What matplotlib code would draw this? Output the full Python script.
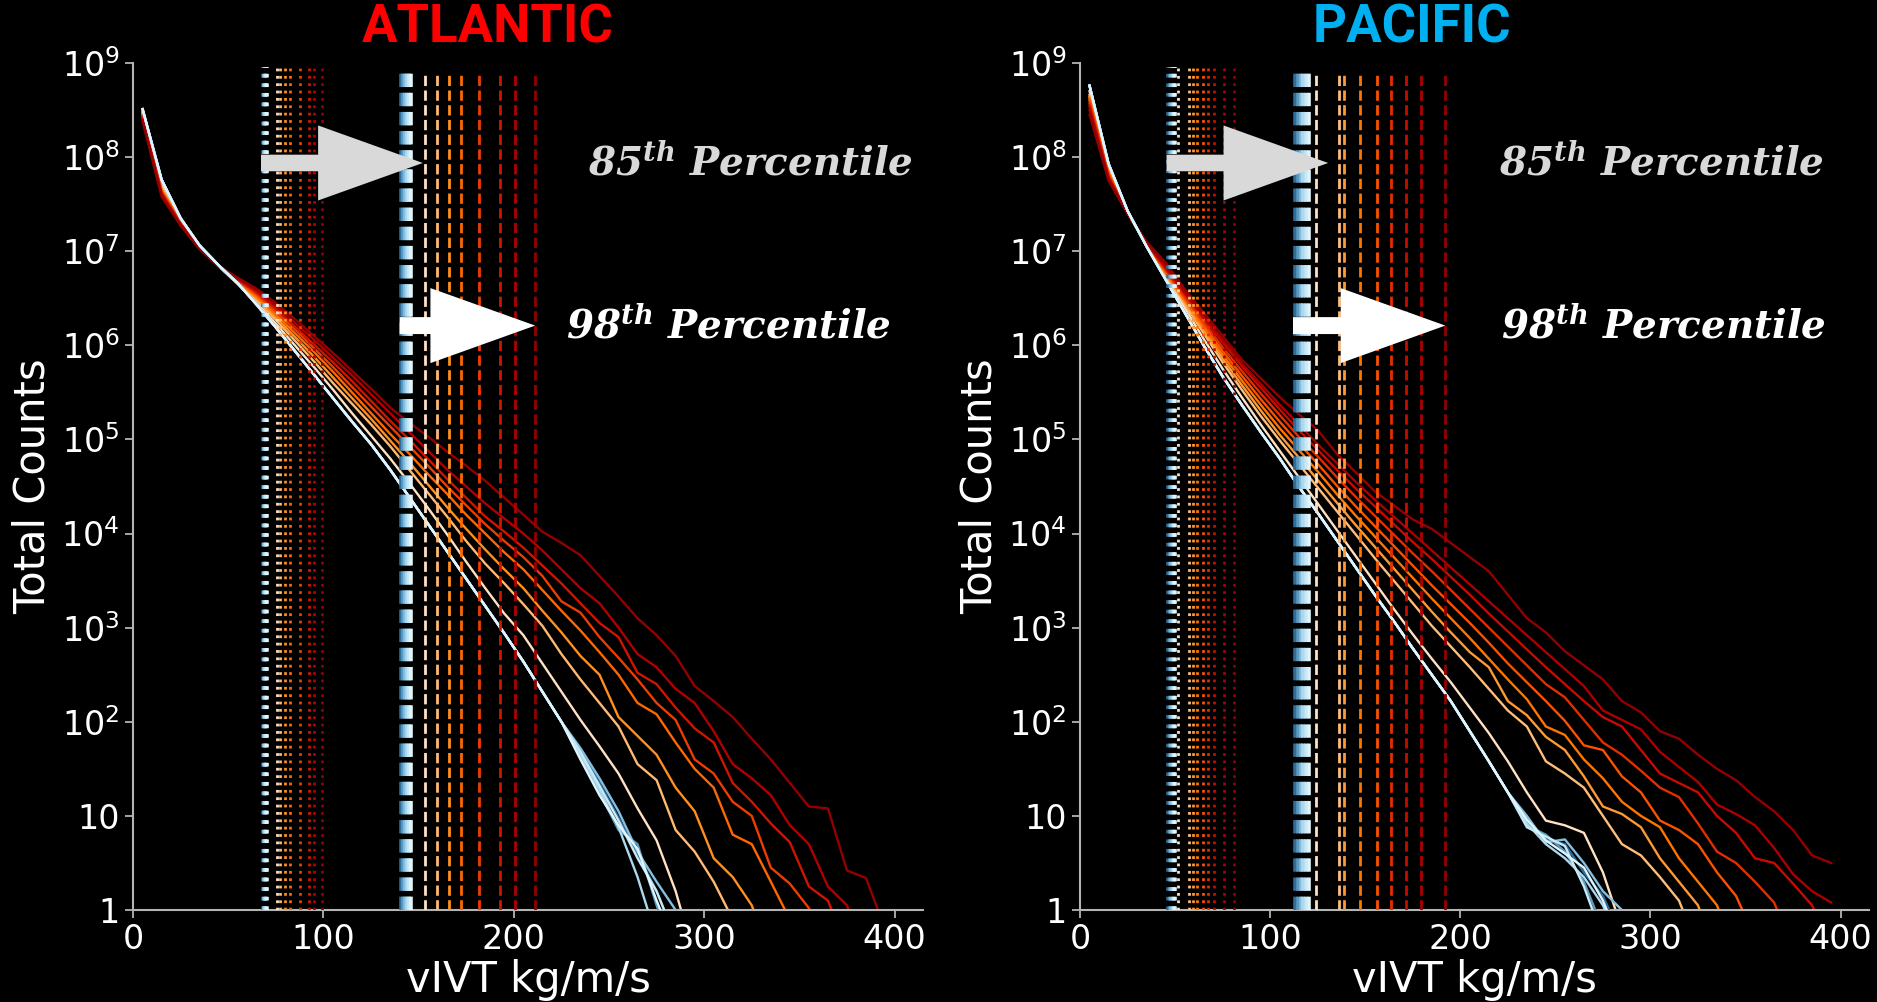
import numpy as np
import matplotlib
matplotlib.use("Agg")
import matplotlib.pyplot as plt
import matplotlib.transforms as mtransforms
from matplotlib.colors import LinearSegmentedColormap
from matplotlib.patches import FancyArrow
from matplotlib.ticker import NullLocator

plt.rcParams['font.family'] = ['DejaVu Sans']

# vIVT histogram bin centres (kg/m/s), 10 kg/m/s bins
bin_centres = np.arange(5, 400, 10)

# ---------------- ATLANTIC ----------------
# log10 of bin counts; historical members share the body and differ in the tail (bins from 235)
atl_hist_core = [8.51, 7.76, 7.35, 7.06, 6.85, 6.66, 6.43, 6.19, 5.94, 5.69, 5.44, 5.19,
                 4.95, 4.68, 4.39, 4.10, 3.81, 3.52, 3.23, 2.94, 2.64, 2.32, 2.00]
atl_hist_tails = [
    [1.70, 1.35, 0.98, 0.60, 0.20, -0.30],
    [1.62, 1.25, 0.85, 0.70, 0.05, -0.50],
    [1.72, 1.40, 1.05, 0.62, 0.30, 0.00, -0.50],
    [1.65, 1.28, 0.88, 0.35, -0.30],
    [1.68, 1.32, 0.95, 0.55, 0.20, -0.30],
    [1.60, 1.22, 0.90, 0.65, 0.10, -0.40],
]
# warming runs, weakest to strongest (log10 counts from the first bin)
atl_warm = [
    [8.48, 7.70, 7.34, 7.06, 6.84, 6.65, 6.45, 6.23, 6.00, 5.77, 5.53, 5.28, 5.04, 4.80, 4.54,
     4.27, 3.99, 3.70, 3.42, 3.15, 2.92, 2.62, 2.32, 2.02, 1.74, 1.45, 1.08, 0.74, 0.20, -0.50],
    [8.47, 7.68, 7.33, 7.06, 6.84, 6.66, 6.48, 6.27, 6.05, 5.83, 5.60, 5.38, 5.16, 4.93, 4.68,
     4.43, 4.18, 3.92, 3.68, 3.47, 3.25, 3.02, 2.72, 2.45, 2.20, 1.95, 1.55, 1.38, 0.85, 0.62,
     0.30, -0.10],
    [8.46, 7.66, 7.32, 7.05, 6.84, 6.67, 6.50, 6.30, 6.09, 5.88, 5.66, 5.44, 5.22, 4.99, 4.76,
     4.52, 4.28, 4.05, 3.83, 3.62, 3.42, 3.18, 2.95, 2.70, 2.50, 2.05, 1.85, 1.65, 1.30, 1.05,
     0.55, 0.35, 0.05, -0.50],
    [8.45, 7.65, 7.31, 7.05, 6.84, 6.68, 6.52, 6.33, 6.13, 5.93, 5.72, 5.50, 5.28, 5.06, 4.85,
     4.63, 4.42, 4.20, 4.00, 3.80, 3.62, 3.40, 3.18, 2.97, 2.74, 2.50, 2.20, 2.08, 1.78, 1.50,
     1.30, 0.80, 0.70, 0.30, -0.10],
    [8.43, 7.63, 7.30, 7.04, 6.84, 6.69, 6.54, 6.36, 6.17, 5.97, 5.77, 5.56, 5.35, 5.14, 4.93,
     4.72, 4.50, 4.30, 4.10, 3.92, 3.75, 3.55, 3.28, 3.16, 2.90, 2.68, 2.45, 2.20, 2.02, 1.60,
     1.45, 1.15, 1.00, 0.45, 0.28, 0.02, -0.50],
    [8.42, 7.62, 7.29, 7.03, 6.84, 6.70, 6.56, 6.39, 6.20, 6.01, 5.82, 5.62, 5.41, 5.20, 5.00,
     4.79, 4.58, 4.38, 4.18, 4.02, 3.85, 3.66, 3.47, 3.26, 3.05, 2.90, 2.52, 2.40, 2.15, 1.93,
     1.78, 1.35, 1.15, 0.92, 0.72, 0.25, 0.10, -0.40],
    [8.40, 7.60, 7.28, 7.02, 6.84, 6.71, 6.58, 6.42, 6.24, 6.06, 5.87, 5.68, 5.48, 5.28, 5.08,
     4.88, 4.68, 4.50, 4.32, 4.16, 4.00, 3.82, 3.62, 3.42, 3.26, 3.00, 2.72, 2.58, 2.35, 2.20,
     1.90, 1.55, 1.40, 1.22, 0.90, 0.70, 0.25, 0.05, -0.50],
    [8.38, 7.58, 7.27, 7.02, 6.84, 6.72, 6.60, 6.45, 6.28, 6.10, 5.92, 5.73, 5.54, 5.34, 5.18,
     5.03, 4.87, 4.72, 4.56, 4.38, 4.20, 4.02, 3.90, 3.77, 3.55, 3.33, 3.10, 2.92, 2.70, 2.38,
     2.22, 2.05, 1.82, 1.60, 1.35, 1.10, 1.08, 0.42, 0.34, -0.20],
]
atl_p85_hist = [68.2, 68.6, 69.0, 69.3, 69.7, 70.1]
atl_p85_warm = [75.6, 77.4, 80.0, 82.6, 87.9, 92.3, 94.9, 99.3]
atl_p98_hist = [141.0, 142.0, 143.0, 144.0, 145.0, 146.0]
atl_p98_warm = [153.2, 159.5, 165.8, 172.5, 181.6, 192.5, 200.5, 211.2]

# ---------------- PACIFIC ----------------
pac_hist_core = [8.76, 7.93, 7.43, 7.05, 6.70, 6.35, 6.00, 5.67, 5.37, 5.08, 4.80, 4.50,
                 4.22, 3.93, 3.64, 3.35, 3.07, 2.78, 2.50, 2.22, 1.90, 1.58, 1.25]
pac_hist_tails = [
    [0.95, 0.75, 0.70, 0.40, 0.15, -0.30],
    [0.90, 0.80, 0.62, 0.30, -0.20],
    [1.00, 0.72, 0.75, 0.50, 0.20, 0.00, -0.50],
    [0.92, 0.70, 0.55, 0.35, 0.05, -0.40],
    [0.88, 0.78, 0.68, 0.25, -0.30],
    [0.96, 0.74, 0.60, 0.45, 0.10, -0.40],
]
pac_warm = [
    [8.70, 7.88, 7.42, 7.06, 6.73, 6.40, 6.07, 5.75, 5.45, 5.16, 4.88, 4.60, 4.32, 4.04, 3.76,
     3.48, 3.20, 2.93, 2.67, 2.42, 2.15, 1.88, 1.58, 1.25, 0.95, 0.90, 0.82, 0.40, -0.20],
    [8.66, 7.86, 7.41, 7.06, 6.75, 6.44, 6.13, 5.82, 5.53, 5.25, 4.99, 4.74, 4.49, 4.24, 3.99,
     3.74, 3.50, 3.26, 3.02, 2.80, 2.58, 2.35, 2.12, 1.95, 1.58, 1.45, 1.30, 1.00, 0.70, 0.58,
     0.35, 0.10, -0.40],
    [8.64, 7.85, 7.41, 7.07, 6.76, 6.46, 6.16, 5.86, 5.58, 5.31, 5.05, 4.81, 4.57, 4.33, 4.09,
     3.86, 3.63, 3.40, 3.17, 2.95, 2.74, 2.58, 2.22, 2.07, 1.84, 1.70, 1.42, 1.10, 1.02, 0.88,
     0.55, 0.30, 0.05, -0.50],
    [8.62, 7.84, 7.41, 7.07, 6.77, 6.48, 6.19, 5.90, 5.63, 5.37, 5.12, 4.89, 4.66, 4.42, 4.19,
     3.97, 3.75, 3.53, 3.31, 3.10, 2.89, 2.67, 2.45, 2.24, 1.95, 1.86, 1.60, 1.40, 1.15, 1.00,
     0.88, 0.55, 0.30, 0.05, -0.50],
    [8.60, 7.82, 7.41, 7.08, 6.79, 6.50, 6.22, 5.94, 5.68, 5.43, 5.19, 4.96, 4.74, 4.51, 4.29,
     4.08, 3.87, 3.66, 3.45, 3.25, 3.05, 2.84, 2.62, 2.42, 2.22, 2.01, 1.75, 1.70, 1.42, 1.25,
     0.95, 0.85, 0.70, 0.40, 0.15, -0.30],
    [8.57, 7.80, 7.41, 7.08, 6.80, 6.52, 6.25, 5.98, 5.73, 5.49, 5.26, 5.03, 4.82, 4.60, 4.39,
     4.19, 3.99, 3.79, 3.60, 3.40, 3.20, 3.00, 2.80, 2.60, 2.40, 2.26, 2.02, 1.78, 1.65, 1.48,
     1.30, 1.20, 0.92, 0.62, 0.50, 0.30, 0.08, -0.40],
    [8.54, 7.79, 7.41, 7.09, 6.82, 6.55, 6.29, 6.03, 5.78, 5.55, 5.32, 5.10, 4.89, 4.68, 4.48,
     4.29, 4.10, 3.91, 3.73, 3.54, 3.35, 3.15, 2.96, 2.77, 2.58, 2.40, 2.22, 2.05, 1.95, 1.70,
     1.45, 1.35, 1.25, 1.00, 0.82, 0.55, 0.50, 0.28, 0.05, -0.40],
    [8.50, 7.77, 7.40, 7.09, 6.84, 6.57, 6.31, 6.06, 5.81, 5.59, 5.37, 5.16, 4.95, 4.75, 4.55,
     4.36, 4.18, 4.00, 3.82, 3.64, 3.46, 3.28, 3.10, 2.92, 2.74, 2.56, 2.38, 2.12, 2.02, 1.92,
     1.68, 1.52, 1.36, 1.12, 1.02, 0.90, 0.66, 0.38, 0.20, 0.08],
    [8.45, 7.75, 7.40, 7.10, 6.88, 6.60, 6.35, 6.10, 5.85, 5.65, 5.45, 5.27, 5.10, 4.85, 4.65,
     4.45, 4.30, 4.15, 4.05, 3.90, 3.75, 3.60, 3.35, 3.10, 2.95, 2.75, 2.60, 2.45, 2.22, 2.10,
     1.90, 1.82, 1.65, 1.50, 1.38, 1.20, 1.05, 0.85, 0.58, 0.50],
]
pac_p85_hist = [46.5, 47.2, 48.0, 48.7, 49.4, 50.0]
pac_p85_warm = [51.4, 57.5, 59.5, 61.4, 64.9, 67.5, 70.2, 75.8, 81.0]
pac_p98_hist = [113.0, 114.5, 116.0, 117.5, 119.0, 120.5]
pac_p98_warm = [124.0, 136.3, 139.0, 147.5, 156.1, 163.7, 171.4, 179.3, 192.1]

ytick_values = [10.0 ** k for k in range(10)]
ytick_labels = ['1', '10'] + [r'$\mathregular{10^{%d}}$' % k for k in range(2, 10)]
xtick_values = [0, 100, 200, 300, 400]

hist_cmap = LinearSegmentedColormap.from_list('hist', ['#2f6d9c', '#79b8da', '#b9e1f2', '#e2f5fc'])
ARROW85_LENGTH = 85.0
HEAD_LEN = 55.0


def draw_panel(ax, hist_core, hist_tails, warm, p85_hist, p85_warm, p98_hist, p98_warm,
               text_x85, text_x98):
    ax.set_facecolor('black')
    hist_cols = hist_cmap(np.linspace(0.0, 1.0, len(hist_tails)))
    warm_cols = plt.cm.gist_heat_r(np.linspace(0.06, 0.62, len(warm)))

    for vals, col in zip(warm, warm_cols):
        v = np.asarray(vals)
        ax.plot(bin_centres[:len(v)], 10.0 ** v, color=col, lw=1.7, zorder=2)
    for tail, col in zip(hist_tails, hist_cols):
        v = np.asarray(hist_core + tail)
        ax.plot(bin_centres[:len(v)], 10.0 ** v, color=col, lw=1.7, zorder=3)

    # percentile markers
    for p, col in zip(p85_warm, warm_cols):
        ax.axvline(p, ymax=0.995, color=col, ls=':', lw=2.0, zorder=4)
    for p, col in zip(p85_hist, hist_cols):
        ax.axvline(p, ymax=0.995, color=col, ls=':', lw=2.6, zorder=4)
    for p, col in zip(p98_warm, warm_cols):
        ax.axvline(p, ymax=0.99, color=col, ls='--', lw=2.0, zorder=4)
    for p, col in zip(p98_hist, hist_cols):
        ax.axvline(p, ymax=0.99, color=col, ls='--', lw=2.6, zorder=4)

    ax.set_yscale('log')
    ax.set_ylim(1, 1e9)
    ax.set_xlim(0, 415)
    ax.set_yticks(ytick_values)
    ax.set_yticklabels(ytick_labels)
    ax.yaxis.set_minor_locator(NullLocator())
    ax.set_xticks(xtick_values)
    ax.tick_params(colors='#b4b4b4', labelcolor='white', labelsize=24, length=6, width=1.3)
    for side in ('top', 'right'):
        ax.spines[side].set_visible(False)
    for side in ('left', 'bottom'):
        ax.spines[side].set_color('#b4b4b4')
        ax.spines[side].set_linewidth(1.5)

    ax.set_xlabel('vIVT kg/m/s', color='white', fontsize=30)
    ax.set_ylabel('Total Counts', color='white', fontsize=30)
    ax.xaxis.set_label_coords(0.5, -0.058)
    ax.xaxis.label.set_va('top')
    ax.yaxis.set_label_coords(-0.1, 0.5)

    trans = mtransforms.blended_transform_factory(ax.transData, ax.transAxes)
    y85, y98 = 0.882, 0.690
    tail85 = min(p85_hist) - 1.0
    ax.add_patch(FancyArrow(tail85, y85, ARROW85_LENGTH, 0, width=0.0196, head_width=0.0886,
                            head_length=HEAD_LEN, length_includes_head=True,
                            transform=trans, color='#d9d9d9', lw=0, zorder=6))
    tail98 = min(p98_hist) - 1.0
    ax.add_patch(FancyArrow(tail98, y98, max(p98_warm) - tail98, 0, width=0.020,
                            head_width=0.0886, head_length=HEAD_LEN, length_includes_head=True,
                            transform=trans, color='white', lw=0, zorder=6))
    tfont = dict(family='DejaVu Serif', weight='bold', style='italic', fontsize=28,
                 ha='center', va='center', transform=trans, zorder=7)
    ax.text(text_x85, y85, r'85$\mathregular{^{th}}$ Percentile', color='#d9d9d9', **tfont)
    ax.text(text_x98, y98, r'98$\mathregular{^{th}}$ Percentile', color='white', **tfont)


fig = plt.figure(figsize=(18.77, 10.02), dpi=100, facecolor='black')
ax_atl = fig.add_axes([0.0709, 0.0918, 0.4209, 0.8453])
ax_pac = fig.add_axes([0.5754, 0.0918, 0.4204, 0.8453])

draw_panel(ax_atl, atl_hist_core, atl_hist_tails, atl_warm, atl_p85_hist, atl_p85_warm,
           atl_p98_hist, atl_p98_warm, 324.5, 312.6)
draw_panel(ax_pac, pac_hist_core, pac_hist_tails, pac_warm, pac_p85_hist, pac_p85_warm,
           pac_p98_hist, pac_p98_warm, 306.0, 306.8)

title_font = dict(family=['Roboto', 'DejaVu Sans'], weight='bold', fontsize=38,
                  ha='center', va='center')
fig.text(0.26, 0.972, 'ATLANTIC', color='#ff0000', **title_font)
fig.text(0.752, 0.972, 'PACIFIC', color='#00b0f0', **title_font)

fig.savefig('out.png', dpi=100, facecolor='black')
